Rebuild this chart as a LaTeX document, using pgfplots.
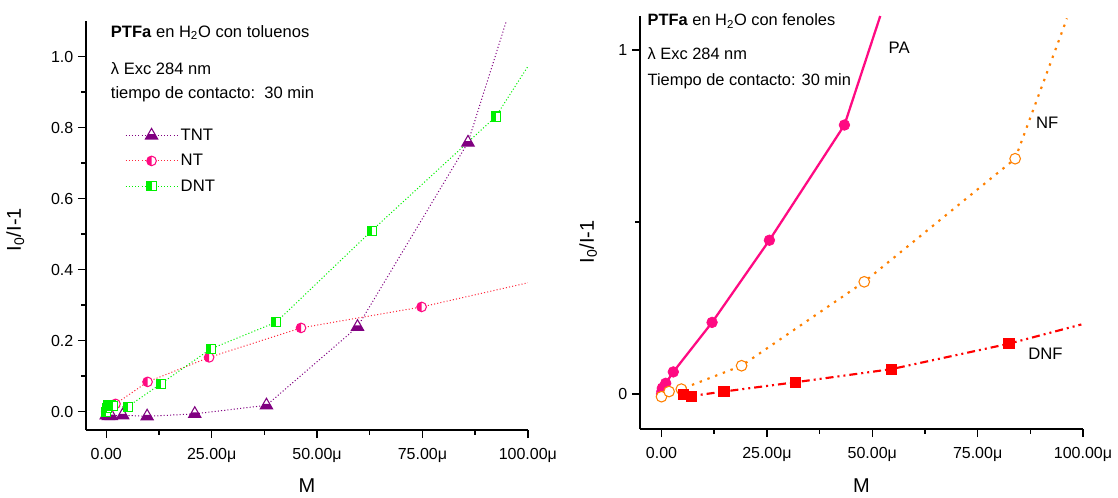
\documentclass[border=0pt]{standalone}
\usepackage{fontspec}
\setmainfont{Liberation Sans}
\usepackage{pgfplots}
\pgfplotsset{compat=1.18}
\definecolor{tntc}{RGB}{128,0,128}
\definecolor{ntc}{RGB}{255,10,130}
\definecolor{ntl}{RGB}{255,40,60}
\definecolor{dntc}{RGB}{0,240,0}
\definecolor{pac}{RGB}{255,10,130}
\definecolor{nfc}{RGB}{255,128,0}
\definecolor{dnfc}{RGB}{255,0,0}

\pgfdeclareplotmark{halftri}{%
  \pgfsetdash{}{0pt}%
  \begin{pgfscope}\pgfsetfillcolor{white}%
  \pgfpathmoveto{\pgfqpoint{0pt}{\pgfplotmarksize}}%
  \pgfpathlineto{\pgfqpoint{-.866\pgfplotmarksize}{-.5\pgfplotmarksize}}%
  \pgfpathlineto{\pgfqpoint{.866\pgfplotmarksize}{-.5\pgfplotmarksize}}%
  \pgfpathclose
  \pgfusepathqfill\end{pgfscope}%
  \pgfpathmoveto{\pgfqpoint{-.866\pgfplotmarksize}{-.5\pgfplotmarksize}}%
  \pgfpathlineto{\pgfqpoint{.866\pgfplotmarksize}{-.5\pgfplotmarksize}}%
  \pgfpathlineto{\pgfqpoint{.462\pgfplotmarksize}{.2\pgfplotmarksize}}%
  \pgfpathlineto{\pgfqpoint{-.462\pgfplotmarksize}{.2\pgfplotmarksize}}%
  \pgfpathclose
  \pgfusepathqfill
  \pgfpathmoveto{\pgfqpoint{0pt}{\pgfplotmarksize}}%
  \pgfpathlineto{\pgfqpoint{-.866\pgfplotmarksize}{-.5\pgfplotmarksize}}%
  \pgfpathlineto{\pgfqpoint{.866\pgfplotmarksize}{-.5\pgfplotmarksize}}%
  \pgfpathclose
  \pgfusepathqstroke
}
\pgfdeclareplotmark{halfcircL}{%
  \pgfsetdash{}{0pt}%
  \begin{pgfscope}\pgfsetfillcolor{white}%
  \pgfpathcircle{\pgfpointorigin}{\pgfplotmarksize}%
  \pgfusepathqfill\end{pgfscope}%
  \pgfpathmoveto{\pgfqpoint{0pt}{\pgfplotmarksize}}%
  \pgfpatharc{90}{270}{\pgfplotmarksize}%
  \pgfpathclose
  \pgfusepathqfill
  \pgfpathcircle{\pgfpointorigin}{\pgfplotmarksize}%
  \pgfusepathqstroke
}
\pgfdeclareplotmark{halfsqL}{%
  \pgfsetdash{}{0pt}%
  \begin{pgfscope}\pgfsetfillcolor{white}%
  \pgfpathrectangle{\pgfqpoint{-\pgfplotmarksize}{-\pgfplotmarksize}}{\pgfqpoint{2\pgfplotmarksize}{2\pgfplotmarksize}}%
  \pgfusepathqfill\end{pgfscope}%
  \pgfpathrectangle{\pgfqpoint{-\pgfplotmarksize}{-\pgfplotmarksize}}{\pgfqpoint{\pgfplotmarksize}{2\pgfplotmarksize}}%
  \pgfusepathqfill
  \pgfpathrectangle{\pgfqpoint{-\pgfplotmarksize}{-\pgfplotmarksize}}{\pgfqpoint{2\pgfplotmarksize}{2\pgfplotmarksize}}%
  \pgfusepathqstroke
}
\pgfdeclareplotmark{ocircW}{%
  \pgfsetdash{}{0pt}%
  \begin{pgfscope}\pgfsetfillcolor{white}%
  \pgfpathcircle{\pgfpointorigin}{\pgfplotmarksize}%
  \pgfusepathqfill\end{pgfscope}%
  \pgfpathcircle{\pgfpointorigin}{\pgfplotmarksize}%
  \pgfusepathqstroke
}
\pgfdeclareplotmark{fcirc}{%
  \pgfsetdash{}{0pt}%
  \pgfpathcircle{\pgfpointorigin}{\pgfplotmarksize}%
  \pgfusepathqfillstroke
}
\pgfdeclareplotmark{fsq}{%
  \pgfsetdash{}{0pt}%
  \pgfpathrectangle{\pgfqpoint{-\pgfplotmarksize}{-\pgfplotmarksize}}{\pgfqpoint{2\pgfplotmarksize}{2\pgfplotmarksize}}%
  \pgfusepathqfillstroke
}

\pgfplotsset{
  common/.style={
    scale only axis,
    axis lines=left,
    axis line style={-, line width=1.3pt},
    tick align=outside,
    major tick length=6pt,
    minor tick length=3.5pt,
    every tick/.style={black, line width=1.1pt},
    xmin=-4.8, xmax=100,
    xtick={0,25,50,75,100},
    xticklabels={0.00,25.00μ,50.00μ,75.00μ,100.00μ},
    minor x tick num=1,
    ticklabel style={font=\fontsize{12}{14}\selectfont},
    xticklabel style={yshift=-4pt},
    label style={font=\fontsize{15}{17}\selectfont},
    xlabel={M},
    ylabel={I\textsubscript{0}/I-1},
    clip=false,
  },
  dotl/.style={dash pattern=on 0.8pt off 1.6pt, line width=0.75pt},
}

\begin{document}
\begin{tikzpicture}[x=1pt,y=1pt]
\useasboundingbox (0,0) rectangle (838.5,-372.75);

% ---------------- left ----------------
\begin{axis}[common,
  at={(64.5pt,-322.5pt)}, anchor=south west,
  width=331.4pt, height=306.75pt,
  ymin=-0.0515, ymax=1.10,
  ytick={0,0.2,0.4,0.6,0.8,1.0},
  yticklabels={0.0,0.2,0.4,0.6,0.8,1.0},
  minor y tick num=1,
  xlabel style={at={(axis description cs:0.5,-0.136)}, anchor=center},
  ylabel style={at={(axis description cs:-0.16,0.49)}, anchor=center},
  legend image code/.code={\draw[mark repeat=2,mark phase=2,#1] plot coordinates {(0pt,0pt) (19.5pt,0pt) (39pt,0pt)};},
  legend style={draw=none, fill=none, at={(axis cs:4.4,0.805)}, anchor=north west,
    font=\fontsize{12.5}{14}\selectfont, row sep=5pt, inner sep=0pt,
    /tikz/every odd column/.style={inner sep=0pt}},
  legend cell align=left,
]
\addplot[tntc, dotl, mark=halftri, mark size=5.3pt, mark options={line width=0.8pt, draw=tntc, fill=tntc}] coordinates {
(0,-0.010) (0.5,-0.012) (1.2,-0.012) (3.9,-0.010) (9.7,-0.013) (21,-0.006) (38,0.018) (59.6,0.239) (85.8,0.758)};
\addlegendentry{TNT}
\addplot[ntl, dotl, mark=halfcircL, mark size=3.6pt, mark options={line width=0.8pt, draw=ntc, fill=ntc}] coordinates {
(0,0.0) (0.5,0.008) (2.2,0.022) (9.8,0.084) (24.4,0.153) (46.2,0.236) (74.8,0.295)};
\addlegendentry{NT}
\addplot[dntc, dotl, mark=halfsqL, mark size=3.4pt, mark options={line width=0.8pt, draw=dntc, fill=dntc}] coordinates {
(0,0.0) (0.2,0.01) (0.4,0.02) (1.0,0.02) (1.5,0.015) (5.1,0.014) (13.0,0.079) (24.8,0.177) (40.3,0.252) (63.0,0.51) (92.4,0.831)};
\addlegendentry{DNT}
\addplot[tntc, dotl, forget plot] coordinates {(85.8,0.758) (94.9,1.10)};
\addplot[ntl, dotl, forget plot] coordinates {(74.8,0.295) (100,0.363)};
\addplot[dntc, dotl, forget plot] coordinates {(92.4,0.831) (100,0.972)};
\node[anchor=west, font=\fontsize{12.4}{14}\selectfont] at (axis cs:0,1.068) {\textbf{PTFa} en H\textsubscript{2}O con toluenos};
\node[anchor=west, font=\fontsize{12.4}{14}\selectfont] at (axis cs:0,0.967) {λ Exc 284 nm};
\node[anchor=west, font=\fontsize{12.4}{14}\selectfont] at (axis cs:0,0.893) {tiempo de contacto:\ \ 30 min};
\end{axis}

% ---------------- right ----------------
\begin{axis}[common,
  at={(480pt,-321.75pt)}, anchor=south west,
  width=332.25pt, height=309.75pt,
  xmin=-5.1,
  ymin=-0.102, ymax=1.099,
  ytick={0,1},
  yticklabels={0,1},
  minor ytick={0.5},
  xlabel style={at={(axis description cs:0.5,-0.137)}, anchor=center},
  ylabel style={at={(axis description cs:-0.117,0.453)}, anchor=center},
]
\addplot[pac, solid, line width=1.7pt, mark=fcirc, mark size=4pt, mark options={fill=pac, draw=pac, line width=0.5pt}] coordinates {
(0,0.0) (0.1,0.008) (0.2,0.017) (1.0,0.031) (2.8,0.064) (12.0,0.208) (25.6,0.447) (43.4,0.782)};
\addplot[pac, solid, line width=1.7pt] coordinates {(43.4,0.782) (51.9,1.099)};
\addplot[nfc, line width=1.6pt, dash pattern=on 1.8pt off 4.4pt, mark=ocircW, mark size=4pt, mark options={draw=nfc, line width=0.8pt}] coordinates {
(0,-0.008) (1.8,0.007) (4.7,0.014) (19.0,0.082) (48.1,0.326) (83.9,0.684)};
\addplot[nfc, line width=1.6pt, dash pattern=on 1.8pt off 4.4pt] coordinates {(83.9,0.684) (96.2,1.092)};
\addplot[dnfc, line width=1.6pt, dash pattern=on 6pt off 3pt on 1.5pt off 3pt on 1.5pt off 3pt, mark=fsq, mark size=3.8pt, mark options={fill=dnfc, draw=dnfc, line width=0.5pt}] coordinates {
(5.1,0.0) (7.1,-0.006) (14.8,0.007) (31.8,0.034) (54.5,0.072) (82.4,0.146)};
\addplot[dnfc, line width=1.6pt, dash pattern=on 6pt off 3pt on 1.5pt off 3pt on 1.5pt off 3pt] coordinates {(82.4,0.146) (99.6,0.202)};
\node[anchor=west, font=\fontsize{12.3}{14}\selectfont] at (axis cs:-4.4,1.085) {\textbf{PTFa} en H\textsubscript{2}O con fenoles};
\node[anchor=west, font=\fontsize{12.3}{14}\selectfont] at (axis cs:-4.4,0.99) {λ Exc 284 nm};
\node[anchor=west, font=\fontsize{12.3}{14}\selectfont] at (axis cs:-4.4,0.91) {Tiempo de contacto: 30 min};
\node[font=\fontsize{12.5}{14}\selectfont] at (axis cs:56.4,1.008) {PA};
\node[font=\fontsize{12.5}{14}\selectfont] at (axis cs:91.5,0.788) {NF};
\node[font=\fontsize{12.5}{14}\selectfont] at (axis cs:91.1,0.116) {DNF};
\end{axis}
\end{tikzpicture}
\end{document}
